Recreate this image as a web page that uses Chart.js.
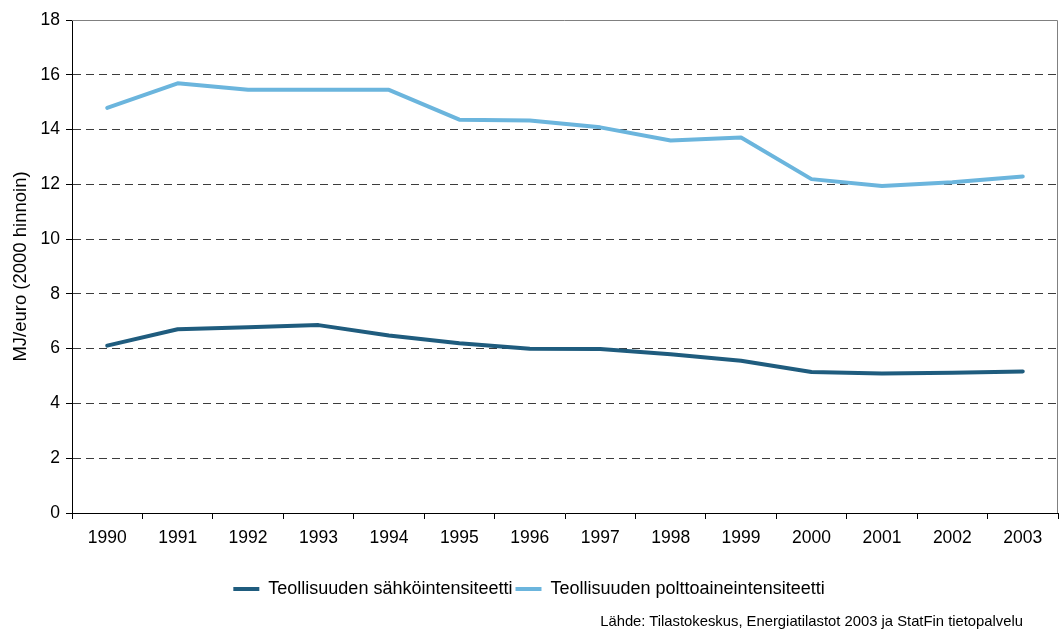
<!DOCTYPE html>
<html>
<head>
<meta charset="utf-8">
<script src="https://cdn.jsdelivr.net/npm/chart.js@4/dist/chart.umd.min.js"></script>
<style>
  html, body { margin: 0; padding: 0; background: #fff; }
  #wrap { position: relative; width: 1059px; height: 633px; }
  #source { position: absolute; right: 36px; top: 613px; font: 14.8px 'Liberation Sans', Arial, sans-serif; color: #000; white-space: nowrap; }
</style>
</head>
<body>
<div id="wrap">
  <canvas id="chart" width="1059" height="633"></canvas>
  <div id="source">Lähde: Tilastokeskus, Energiatilastot 2003 ja StatFin tietopalvelu</div>
</div>
<script>
// ---- data ----
const years = ['1990', '1991', '1992', '1993', '1994', '1995', '1996', '1997', '1998', '1999', '2000', '2001', '2002', '2003'];
const electricity = [6.11, 6.71, 6.78, 6.86, 6.48, 6.20, 6.00, 5.99, 5.80, 5.56, 5.15, 5.09, 5.12, 5.17];
const fuel = [14.79, 15.69, 15.45, 15.45, 15.45, 14.36, 14.33, 14.08, 13.60, 13.71, 12.19, 11.94, 12.08, 12.29];
const yTicks = [0, 2, 4, 6, 8, 10, 12, 14, 16, 18];

const seriesNames = ['Teollisuuden sähköintensiteetti', 'Teollisuuden polttoaineintensiteetti'];
const DARK = '#1f5c7e';
const LIGHT = '#6bb5dd';
const FONT = "'Liberation Sans', Arial, sans-serif";

Chart.defaults.font.family = FONT;
Chart.defaults.color = '#000';

// gray frame on top and right of the plot area
const framePlugin = {
  id: 'frame',
  beforeDatasetsDraw(chart) {
    const { ctx, chartArea: a } = chart;
    ctx.save();
    ctx.strokeStyle = '#808080';
    ctx.lineWidth = 1;
    ctx.beginPath();
    ctx.moveTo(a.left, a.top + 0.5);
    ctx.lineTo(a.right - 0.5, a.top + 0.5);
    ctx.lineTo(a.right - 0.5, a.bottom);
    ctx.stroke();
    ctx.restore();
  }
};

const lineDefaults = { borderWidth: 4, pointRadius: 0, tension: 0, borderCapStyle: 'round', borderJoinStyle: 'round', fill: false };

new Chart(document.getElementById('chart'), {
  type: 'line',
  data: {
    labels: years,
    datasets: [
      { ...lineDefaults, label: seriesNames[0], data: electricity, borderColor: DARK, backgroundColor: DARK },
      { ...lineDefaults, label: seriesNames[1], data: fuel, borderColor: LIGHT, backgroundColor: LIGHT },
    ],
  },
  options: {
    responsive: false,
    animation: false,
    layout: { padding: { top: 20, right: 1, bottom: 25, left: 0 } },
    plugins: {
      legend: {
        position: 'bottom',
        labels: {
          usePointStyle: true, pointStyle: 'line', pointStyleWidth: 26,
          color: '#000', font: { size: 18 }, padding: 3,
        },
      },
      tooltip: { enabled: false },
    },
    scales: {
      x: {
        offset: true,
        grid: { offset: true, drawOnChartArea: false, drawTicks: true, tickLength: 6, color: '#000' },
        border: { color: '#000', width: 1 },
        ticks: { color: '#000', font: { size: 17.5 }, padding: 9, maxRotation: 0 },
        afterFit: (s) => { s.height = 64; },
      },
      y: {
        min: 0, max: 18,
        afterBuildTicks: (s) => { s.ticks = yTicks.map(v => ({ value: v })); },
        grid: { color: '#3c3c3c', lineWidth: 1, tickLength: 6, tickColor: '#000', tickBorderDash: [] },
        border: { color: '#000', width: 1, dash: [8, 5] },
        ticks: { color: '#000', font: { size: 17.5 }, padding: 6 },
        title: { display: true, text: 'MJ/euro (2000 hinnoin)', color: '#000', font: { size: 18.5 }, padding: { top: 10, bottom: 0 } },
        afterFit: (s) => { s.width = 72; },
      },
    },
  },
  plugins: [framePlugin],
});
</script>
</body>
</html>
